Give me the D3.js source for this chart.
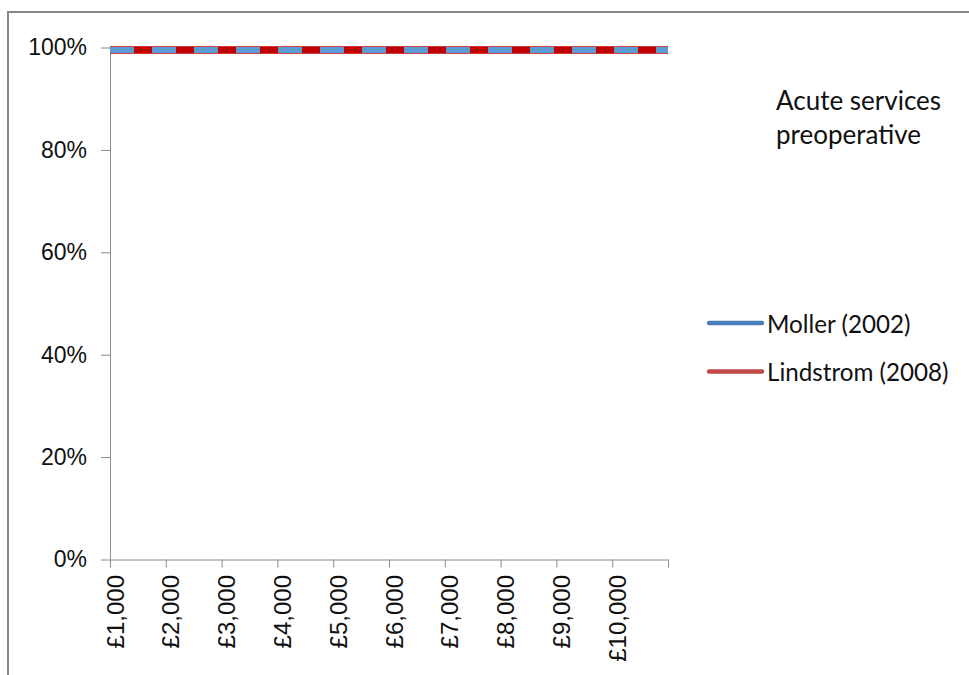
<!DOCTYPE html>
<html>
<head>
<meta charset="utf-8">
<script src="https://cdn.jsdelivr.net/npm/d3@7"></script>
<style>
  html, body { margin: 0; padding: 0; background: #fff; }
  svg { display: block; }
</style>
</head>
<body>
<svg id="chart" width="969" height="675"></svg>
<script>
// Willingness-to-pay thresholds (x) and probability of being cost-effective (y)
const thresholds = [1000, 2000, 3000, 4000, 5000, 6000, 7000, 8000, 9000, 10000, 11000];
const tickLabels = ["£1,000", "£2,000", "£3,000", "£4,000", "£5,000", "£6,000", "£7,000", "£8,000", "£9,000", "£10,000", ""];
const moller    = [0.995, 0.995, 0.995, 0.995, 0.995, 0.995, 0.995, 0.995, 0.995, 0.995, 0.995];
const lindstrom = [0.995, 0.995, 0.995, 0.995, 0.995, 0.995, 0.995, 0.995, 0.995, 0.995, 0.995];
const seriesNames = ["Moller (2002)", "Lindstrom (2008)"];
const yTicks = [0, 0.2, 0.4, 0.6, 0.8, 1.0];
const titleLines = ["Acute services", "preoperative"];

const svg = d3.select("#chart");
const W = 969, H = 675;
const plot = { left: 110, right: 668, top: 47.5, bottom: 559.5 };

svg.append("rect").attr("width", W).attr("height", H).attr("fill", "#fff");

// outer chart frame (runs past the right and bottom edges)
svg.append("rect")
  .attr("x", 8).attr("y", 12)
  .attr("width", 1000).attr("height", 700)
  .attr("fill", "none").attr("stroke", "#878787").attr("stroke-width", 2);

const x = d3.scalePoint().domain(thresholds).range([plot.left, plot.right]);
const y = d3.scaleLinear().domain([0, 1]).range([plot.bottom, plot.top]);

const axisColor = "#8c8c8c";
const labelFont = "'Liberation Sans', Arial, sans-serif";

// y axis
const yAxis = svg.append("g")
  .attr("transform", `translate(${plot.left},0)`)
  .call(d3.axisLeft(y).tickValues(yTicks).tickFormat(d3.format(".0%")).tickSizeOuter(0).tickSize(9).tickPadding(14));
yAxis.select(".domain").attr("stroke", axisColor).attr("d", `M0.5,${plot.top - 1}V${plot.bottom}`);
yAxis.selectAll(".tick line").attr("stroke", axisColor);
yAxis.selectAll(".tick text")
  .attr("font-family", labelFont).attr("font-size", 23).attr("fill", "#111");

// x axis
const xAxis = svg.append("g")
  .attr("transform", `translate(0,${plot.bottom})`)
  .call(d3.axisBottom(x).tickFormat((d, i) => tickLabels[i]).tickSizeOuter(0).tickSize(8));
xAxis.select(".domain").attr("stroke", axisColor);
xAxis.selectAll(".tick line").attr("stroke", axisColor);
xAxis.selectAll(".tick text")
  .attr("font-family", labelFont).attr("font-size", 24).attr("fill", "#111")
  .attr("text-anchor", "end")
  .attr("dominant-baseline", "central")
  .attr("transform", "translate(4.5,15.5) rotate(-90)")
  .attr("x", 0).attr("y", 0).attr("dy", null);

// series lines
const line = d3.line().x((d, i) => x(thresholds[i])).y(d => y(d));

svg.append("path")
  .datum(lindstrom)
  .attr("d", line)
  .attr("fill", "none")
  .attr("stroke", "#C00000")
  .attr("stroke-width", 7.5);

svg.append("path")
  .datum(moller)
  .attr("d", line)
  .attr("fill", "none")
  .attr("stroke", "#5B9BD5")
  .attr("stroke-width", 6)
  .attr("stroke-dasharray", "24,18");

// legend
const legendFont = "Lato, 'Open Sans', sans-serif";
const legendColors = ["#4A7EBB", "#BE4B48"];
const legend = svg.append("g");
seriesNames.forEach((name, i) => {
  const ly = 323 + i * 48.5;
  legend.append("line")
    .attr("x1", 709).attr("x2", 762)
    .attr("y1", ly).attr("y2", ly)
    .attr("stroke", legendColors[i]).attr("stroke-width", 4.5)
    .attr("stroke-linecap", "round");
  legend.append("text")
    .attr("x", 767).attr("y", ly)
    .attr("dominant-baseline", "central")
    .attr("font-family", legendFont).attr("font-size", 24.2)
    .attr("fill", "#111")
    .text(name);
});

// title
const title = svg.append("text")
  .attr("font-family", legendFont).attr("font-size", 26).attr("fill", "#111");
titleLines.forEach((t, i) => {
  title.append("tspan").attr("x", 776).attr("y", 110 + i * 34).text(t);
});
</script>
</body>
</html>
